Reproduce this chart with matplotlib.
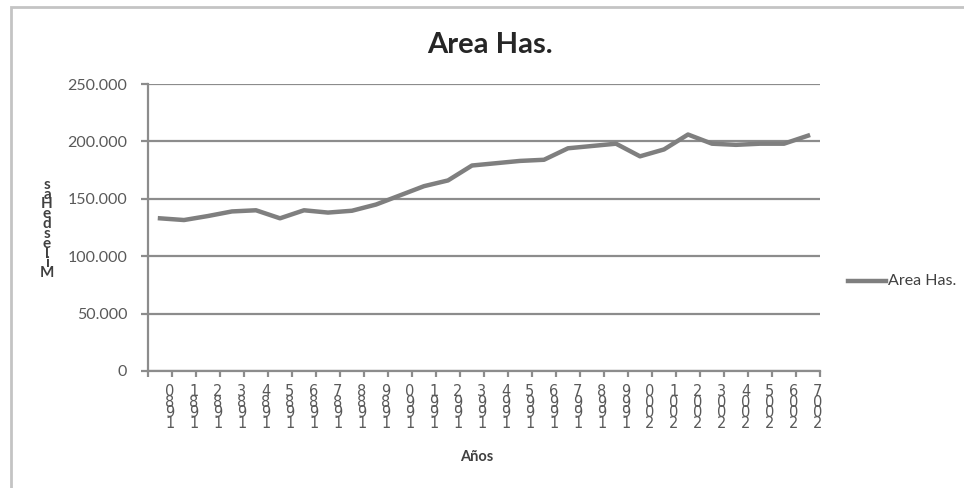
import matplotlib
matplotlib.use("Agg")
import matplotlib.pyplot as plt
from matplotlib.lines import Line2D
from matplotlib.patches import Rectangle
from matplotlib.ticker import FixedLocator, FuncFormatter

plt.rcParams['font.family'] = ['Lato', 'DejaVu Sans']

years = list(range(1980, 2008))
area = [133000, 131500, 135000, 139000, 140000, 133000, 140000, 138000,
        139600, 145000, 153000, 161000, 166000, 179000, 181000, 183000,
        184000, 194000, 196000, 198000, 187000, 193000, 206000, 198000,
        197000, 198000, 198000, 205000]
yticks = [0, 50000, 100000, 150000, 200000, 250000]

line_col = '#7f7f7f'
grid_col = '#8c8c8c'
txt_col = '#595959'

fig = plt.figure(figsize=(9.64, 4.88), dpi=100)
ax = fig.add_axes([148 / 964, 117 / 488, 672 / 964, 287 / 488])

x = list(range(len(years)))
ax.plot(x, area, color=line_col, lw=3.2, solid_joinstyle='round', zorder=3)

ax.set_xlim(-0.5, len(years) - 0.5)
ax.set_ylim(0, 250000)
ax.yaxis.set_major_locator(FixedLocator(yticks))
ax.yaxis.set_major_formatter(FuncFormatter(
    lambda v, p: '0' if v == 0 else f'{int(v):,}'.replace(',', '.')))
ax.grid(axis='y', color=grid_col, lw=1.6)
ax.set_axisbelow(True)
for s in ['top', 'right']:
    ax.spines[s].set_visible(False)
for s in ['left', 'bottom']:
    ax.spines[s].set_color(grid_col)
    ax.spines[s].set_linewidth(1.6)
ax.tick_params(axis='y', length=5, width=1.6, color=grid_col, pad=10,
               labelsize=11.5, labelcolor=txt_col)
ax.set_xticks([i - 0.5 for i in range(len(years) + 1)])
ax.set_xticklabels([])
ax.tick_params(axis='x', length=4, width=1.6, color=grid_col)

# stacked year labels (digits read bottom to top)
for i, yr in enumerate(years):
    lab = '\n'.join(reversed(str(yr)))
    ax.text(i + 0.4, -0.045, lab, transform=ax.get_xaxis_transform(),
            ha='center', va='top', fontsize=10.5, color=txt_col,
            linespacing=0.64, family='DejaVu Sans')

fig.text(0.5085, 0.908, 'Area Has.', ha='center', va='center',
         fontsize=21, fontweight='bold', color='#262626')
fig.text(477 / 964, 1 - 457 / 488, 'Años', ha='center', va='center',
         fontsize=10.5, fontweight='bold', color='#404040')
ylab = '\n'.join(reversed('MilesdeHas'))
fig.text(47 / 964, 1 - 229 / 488, ylab, ha='center', va='center',
         fontsize=11, fontweight='bold', color='#404040', linespacing=0.62)

# legend
fig.add_artist(Line2D([848 / 964, 886 / 964], [1 - 281 / 488, 1 - 281 / 488],
                      color=line_col, lw=3.2, transform=fig.transFigure))
fig.text(888 / 964, 1 - 281 / 488, 'Area Has.', ha='left', va='center',
         fontsize=11.5, color='#404040')

# chart border
fig.add_artist(Rectangle((11 / 964, -0.05), 1.0, 1 - 7 / 488 + 0.05,
                         transform=fig.transFigure, fill=False,
                         edgecolor='#c4c4c4', lw=2))

fig.savefig('out.png', dpi=100)
